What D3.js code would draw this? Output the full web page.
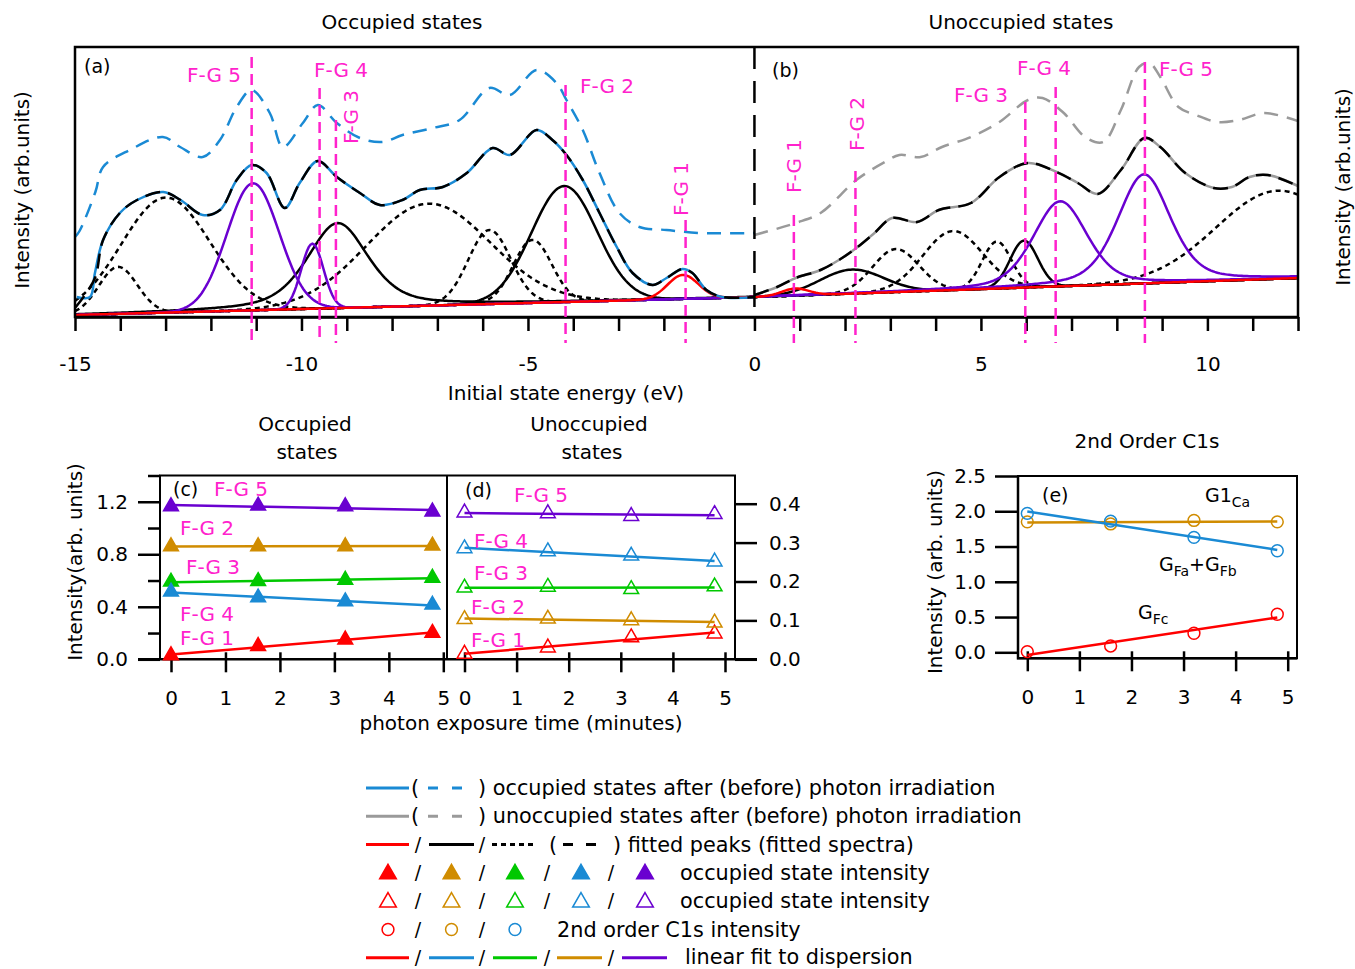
<!DOCTYPE html>
<meta charset="utf-8">
<script src="https://d3js.org/d3.v7.min.js"></script>
<style>
body { margin: 0; background: #fff; }
text { font-family: "DejaVu Sans", sans-serif; }
</style>
<body>
<script>

// ---------- spectra: [energy (eV), intensity (arb.)] ----------
var occAfter = [[-14.96,2.0],[-14.67,2.0],[-14.56,4.4],[-14.38,7.7],[-14.01,10.4],[-13.63,11.7],[-13.05,12.5],[-12.67,11.7],
  [-12.18,10.2],[-11.80,10.7],[-11.43,13.7],[-11.10,15.2],[-10.77,14.4],[-10.37,10.9],[-10.04,13.4],[-9.64,15.6],[-9.22,14.0],
  [-8.71,12.4],[-8.27,11.2],[-7.77,11.7],[-7.39,12.7],[-6.88,13.0],[-6.35,14.4],[-5.78,16.9],[-5.40,16.2],[-4.81,18.7],
  [-4.46,17.7],[-4.15,16.2],[-3.79,13.7],[-3.42,10.4],[-3.04,7.0],[-2.69,4.4],[-2.25,3.2],[-1.94,3.9],[-1.59,4.8],
  [-1.37,4.4],[-1.06,2.7],[-0.71,2.0],[0,2.0]];
var occBefore = [[-15,8.0],[-14.9,8.6],[-14.55,12.5],[-14.38,15.0],[-13.79,16.7],[-13.06,18.0],[-12.68,17.0],[-12.18,16.0],
  [-11.80,17.7],[-11.43,21.0],[-11.10,22.7],[-10.70,20.4],[-10.41,17.0],[-9.97,19.4],[-9.64,21.2],[-9.22,19.4],[-8.71,17.9],
  [-8.21,17.5],[-7.77,18.2],[-7.10,18.9],[-6.51,19.7],[-5.85,22.9],[-5.40,22.2],[-4.81,24.7],[-4.37,23.4],[-4.15,21.7],
  [-3.79,18.7],[-3.42,14.4],[-2.98,10.4],[-2.54,9.0],[-1.94,8.7],[-1.21,8.4],[0,8.4]];
var unoccAfter = [[0,2.2],[0.5,3.0],[0.91,3.9],[1.46,4.7],[1.9,5.8],[2.25,6.9],[2.65,8.4],[3.04,9.9],[3.59,9.5],[4.07,10.7],
  [4.78,11.4],[5.41,14.0],[6.04,15.4],[6.67,14.5],[7.14,13.4],[7.58,12.3],[8.09,14.7],[8.61,17.9],[8.96,17.0],[9.51,14.4],
  [10.14,12.9],[10.54,13.0],[10.93,14.0],[11.33,14.2],[12,13.1]];
var unoccBefore = [[0,8.2],[0.91,9.4],[1.46,10.4],[2.25,13.7],[2.88,15.5],[3.2,16.2],[3.67,16.0],[4.14,17.0],[4.78,18.0],
  [5.41,19.5],[6.04,21.7],[6.36,21.9],[6.83,20.4],[7.3,18.0],[7.7,17.5],[8.09,20.7],[8.49,25.0],[8.72,25.4],[8.96,24.0],
  [9.36,21.0],[9.75,20.2],[10.22,19.5],[10.7,19.7],[11.25,20.4],[12,19.6]];
// start of the fitted occupied spectrum (rest follows the data)
var fitOccStart = [[-15,0.9],[-14.75,2.4],[-14.55,4.0]];

// linear background under the fits
var background = [[-15,0.2],[0,2.0],[12,3.9]];

// fitted peaks: [centre (eV), height above background, fwhm (eV), lorentzian fraction]
var redPeaks = [[-1.58,2.4,0.8,0],[0.9,0.7,0.7,0]];
var blackPeaks = [[-9.2,8.5,1.6,0.5],[-4.2,11.6,1.7,0],[2.15,2.4,1.65,0],[5.95,4.7,0.72,0]];
var purplePeaks = [[-11.07,12.7,1.36,0],[-9.76,6.5,0.58,0],[6.75,8.5,1.4,0.35],[8.6,10.9,1.38,0.4]];
var dottedPeaks = [[-14.05,4.7,1.0,0],[-13.0,11.5,2.3,0],[-7.2,10.2,3.2,0],[-5.85,7.4,1.1,0],[-4.9,6.3,1.0,0],
  [3.12,4.3,1.2,0],[4.38,5.9,1.55,0],[5.35,4.7,0.75,0],[11.55,8.8,3.2,0]];

// F-G marker energies and the top of each marker line
var fgNames = ["F-G 5","F-G 4","F-G 3","F-G 2","F-G 1","F-G 1","F-G 2","F-G 3","F-G 4","F-G 5"];
var fgEnergy = [-11.1,-9.6,-9.24,-4.17,-1.52,0.87,2.23,5.98,6.65,8.62];
var fgTop = [26.0,22.9,19.7,23.2,9.7,10.2,14.6,21.5,23.0,25.5];

// ---------- intensity vs exposure ----------
var time = [0,1.6,3.2,4.8];
var occFG1 = [0.03,0.10,0.15,0.20];
var occFG2 = [0.86,0.86,0.86,0.865];
var occFG3 = [0.59,0.595,0.605,0.62];
var occFG4 = [0.515,0.47,0.44,0.415];
var occFG5 = [1.165,1.17,1.165,1.125];
var unoccFG1 = [0.014,0.030,0.056,0.066];
var unoccFG2 = [0.103,0.104,0.100,0.094];
var unoccFG3 = [0.184,0.186,0.180,0.187];
var unoccFG4 = [0.285,0.277,0.266,0.251];
var unoccFG5 = [0.377,0.375,0.368,0.373];
var c1sFc = [0.01,0.09,0.27,0.54];
var c1sCa = [1.85,1.82,1.87,1.85];
var c1sFab = [1.97,1.86,1.63,1.44];

var red = "#ff0000", orange = "#d08c00", green = "#00c800", blue = "#1a8ad4", purple = "#6a00d0",
    magenta = "#ff22cc", gray = "#9a9a9a";
var FONT = "DejaVu Sans, sans-serif";

var svg = d3.select("body").append("svg").attr("width", 1355).attr("height", 969);

function label(x, y, s, opts) {
  opts = opts || {};
  var t = svg.append("text").attr("x", x).attr("y", y).text(s)
    .style("font-size", (opts.size || 20) + "px")
    .attr("fill", opts.color || "#000")
    .attr("text-anchor", opts.anchor || "start");
  if (opts.rotate) t.attr("transform", "rotate(-90," + x + "," + y + ")");
  return t;
}

// ================= panels (a) and (b) =================
var xE = d3.scaleLinear().domain([-15, 12]).range([75, 1298]);
var yI = d3.scaleLinear().domain([0, 27]).range([317, 47]);
var bg = d3.scaleLinear().domain(background.map(d => d[0])).range(background.map(d => d[1]));

svg.append("clipPath").attr("id", "clipAB").append("rect")
  .attr("x", 75).attr("y", 47).attr("width", 1223).attr("height", 270);
var gAB = svg.append("g").attr("clip-path", "url(#clipAB)");

var smooth = d3.line().x(d => xE(d[0])).y(d => yI(d[1])).curve(d3.curveCatmullRom.alpha(0.5));
var straight = d3.line().x(d => xE(d[0])).y(d => yI(d[1]));

function peakCurve(p) {
  var lo = p[0] < 0 ? -15 : 0, hi = p[0] < 0 ? 0 : 12;
  return d3.range(lo, hi + 1e-6, 0.04).map(function(x) {
    var u = (x - p[0]) / p[2];
    return [x, bg(x) + p[1] * ((1 - p[3]) * Math.exp(-4 * Math.LN2 * u * u) + p[3] / (1 + 4 * u * u))];
  });
}
function drawPeaks(peaks, color, dash) {
  gAB.selectAll(null).data(peaks).enter().append("path")
    .attr("d", p => straight(peakCurve(p)))
    .attr("fill", "none").attr("stroke", color).attr("stroke-width", 2.5)
    .attr("stroke-dasharray", dash);
}
drawPeaks(dottedPeaks, "#000", "5,4");
drawPeaks(blackPeaks, "#000", null);
drawPeaks(purplePeaks, purple, null);
drawPeaks(redPeaks, red, null);

function spectrum(data, color, width, dash) {
  gAB.append("path").attr("d", smooth(data)).attr("fill", "none")
    .attr("stroke", color).attr("stroke-width", width).attr("stroke-dasharray", dash);
}
spectrum(occBefore, blue, 2.5, "14,9");
spectrum(unoccBefore, gray, 2.5, "14,9");
spectrum(occAfter, blue, 2.5, null);
spectrum(unoccAfter, gray, 2.5, null);
spectrum(fitOccStart.concat(occAfter.filter(d => d[0] > -14.5)), "#000", 2.5, "15,8");
spectrum(unoccAfter, "#000", 2.5, "15,8");

// frame
svg.append("rect").attr("x", 75).attr("y", 47).attr("width", 1223).attr("height", 270)
  .attr("fill", "none").attr("stroke", "#000").attr("stroke-width", 2.5);
svg.append("line").attr("x1", xE(0)).attr("x2", xE(0)).attr("y1", 47).attr("y2", 317)
  .attr("stroke", "#000").attr("stroke-width", 2.5).attr("stroke-dasharray", "22,12");

var axA = svg.append("g").attr("transform", "translate(0,317)")
  .call(d3.axisBottom(xE).tickValues(d3.range(-15, 13)).tickSize(14).tickSizeOuter(0).tickPadding(26)
    .tickFormat(d => d % 5 === 0 ? String(d) : ""));
axA.select(".domain").attr("stroke-width", 2.5);
axA.selectAll(".tick line").attr("stroke-width", 2.5);
axA.selectAll("text").style("font-size", "20px").style("font-family", FONT);

// F-G marker lines
svg.selectAll(null).data(fgEnergy).enter().append("line")
  .attr("x1", d => xE(d)).attr("x2", d => xE(d))
  .attr("y1", (d, i) => yI(fgTop[i])).attr("y2", yI(-2.6))
  .attr("stroke", magenta).attr("stroke-width", 2.5).attr("stroke-dasharray", "11,6");

var fgLabelPos = [[241, 82, "end", 0], [314, 77, "start", 0], [358, 144, "start", 1], [580, 93, "start", 0],
                  [688, 216, "start", 1], [801, 193, "start", 1], [864, 151, "start", 1], [954, 102, "start", 0],
                  [1017, 75, "start", 0], [1159, 76, "start", 0]];
fgLabelPos.forEach(function(p, i) {
  label(p[0], p[1], fgNames[i], {color: magenta, size: 20, anchor: p[2], rotate: p[3]});
});

label(84, 73, "(a)", {size: 19});
label(772, 77, "(b)", {size: 19});
label(402, 29, "Occupied states", {anchor: "middle"});
label(1021, 29, "Unoccupied states", {anchor: "middle"});
label(566, 400, "Initial state energy (eV)", {anchor: "middle"});
label(29, 190, "Intensity (arb.units)", {anchor: "middle", rotate: 1});
label(1350, 187, "Intensity (arb.units)", {anchor: "middle", rotate: 1});

// ================= helpers for small panels =================
function linFit(xs, ys) {
  var mx = d3.mean(xs), my = d3.mean(ys), sxy = 0, sxx = 0;
  xs.forEach(function(x, i) { sxy += (x - mx) * (ys[i] - my); sxx += (x - mx) * (x - mx); });
  var b = sxy / sxx;
  return [my - b * mx, b];
}
var tri = d3.symbol().type(d3.symbolTriangle).size(95);
var circ = d3.symbol().type(d3.symbolCircle).size(110);

function series(xS, yS, ys, color, kind) {
  var f = linFit(time, ys);
  svg.append("line").attr("x1", xS(0)).attr("x2", xS(4.8))
    .attr("y1", yS(f[0])).attr("y2", yS(f[0] + f[1] * 4.8))
    .attr("stroke", color).attr("stroke-width", 2.5);
  svg.selectAll(null).data(ys).enter().append("path")
    .attr("d", kind === "circle" ? circ : tri)
    .attr("transform", (d, i) => "translate(" + xS(time[i]) + "," + yS(d) + ")")
    .attr("fill", kind === "filled" ? color : "none")
    .attr("stroke", color).attr("stroke-width", 1.5);
}
function styleAxis(g) {
  g.select(".domain").remove();
  g.selectAll(".tick line").attr("stroke-width", 2.5);
  g.selectAll("text").style("font-size", "20px").style("font-family", FONT);
  return g;
}

// ================= panels (c) and (d) =================
var xC = d3.scaleLinear().domain([0, 5]).range([171, 443.3]);
var xD = d3.scaleLinear().domain([0, 5]).range([464.5, 725]);
var yC = d3.scaleLinear().domain([0, 1.4]).range([659.3, 475.5]);
var yD = d3.scaleLinear().domain([0, 0.4725]).range([659.3, 475.5]);

styleAxis(svg.append("g").attr("transform", "translate(160,0)")
  .call(d3.axisLeft(yC).tickValues([0, 0.4, 0.8, 1.2]).tickSize(22).tickPadding(10).tickFormat(d3.format(".1f"))));
styleAxis(svg.append("g").attr("transform", "translate(160,0)")
  .call(d3.axisLeft(yC).tickValues([0.2, 0.6, 1.0, 1.4]).tickSize(12).tickFormat("")));
styleAxis(svg.append("g").attr("transform", "translate(735,0)")
  .call(d3.axisRight(yD).tickValues([0, 0.1, 0.2, 0.3, 0.4]).tickSize(22).tickPadding(12).tickFormat(d3.format(".1f"))));
[xC, xD].forEach(function(xs) {
  var g = styleAxis(svg.append("g").attr("transform", "translate(0,659.3)")
    .call(d3.axisBottom(xs).ticks(5).tickSize(13).tickPadding(19)));
  g.selectAll(".tick line").attr("y1", -7);
});
svg.append("path").attr("d", "M160,659.3V475.5H735V659.3M447,475.5V659.3")
  .attr("fill", "none").attr("stroke", "#000").attr("stroke-width", 2);
svg.append("line").attr("x1", 138).attr("x2", 757).attr("y1", 659.3).attr("y2", 659.3)
  .attr("stroke", "#000").attr("stroke-width", 2.5);

series(xC, yC, occFG1, red, "filled");
series(xC, yC, occFG2, orange, "filled");
series(xC, yC, occFG3, green, "filled");
series(xC, yC, occFG4, blue, "filled");
series(xC, yC, occFG5, purple, "filled");
series(xD, yD, unoccFG1, red, "open");
series(xD, yD, unoccFG2, orange, "open");
series(xD, yD, unoccFG3, green, "open");
series(xD, yD, unoccFG4, blue, "open");
series(xD, yD, unoccFG5, purple, "open");

label(173, 496, "(c)", {size: 19});
label(465, 497, "(d)", {size: 19});
[[214, 496, "F-G 5"], [180, 535, "F-G 2"], [186, 574, "F-G 3"], [180, 621, "F-G 4"], [180, 645, "F-G 1"],
 [514, 502, "F-G 5"], [474, 548, "F-G 4"], [474, 580, "F-G 3"], [471, 614, "F-G 2"], [471, 647, "F-G 1"]]
  .forEach(p => label(p[0], p[1], p[2], {color: magenta, size: 20}));

label(305, 431, "Occupied", {anchor: "middle"});
label(307, 459, "states", {anchor: "middle"});
label(589, 431, "Unoccupied", {anchor: "middle"});
label(592, 459, "states", {anchor: "middle"});
label(521, 730, "photon exposure time (minutes)", {anchor: "middle"});
label(82, 562, "Intensity(arb. units)", {anchor: "middle", rotate: 1});

// ================= panel (e) =================
var xEx = d3.scaleLinear().domain([0, 5]).range([1027.3, 1287.7]);
var yEx = d3.scaleLinear().domain([-0.085, 2.5]).range([658.3, 476]);

styleAxis(svg.append("g").attr("transform", "translate(1018,0)")
  .call(d3.axisLeft(yEx).tickValues([0, 0.5, 1, 1.5, 2, 2.5]).tickSize(23).tickPadding(9).tickFormat(d3.format(".1f"))));
var axE = styleAxis(svg.append("g").attr("transform", "translate(0,658.3)")
  .call(d3.axisBottom(xEx).ticks(5).tickSize(13).tickPadding(19)));
axE.selectAll(".tick line").attr("y1", -7);
svg.append("rect").attr("x", 1018).attr("y", 476).attr("width", 279).attr("height", 182.3)
  .attr("fill", "none").attr("stroke", "#000").attr("stroke-width", 2);
svg.append("path").attr("d", "M1018,476V658.3H1297").attr("fill", "none").attr("stroke", "#000").attr("stroke-width", 2.5);

series(xEx, yEx, c1sFc, red, "circle");
series(xEx, yEx, c1sCa, orange, "circle");
series(xEx, yEx, c1sFab, blue, "circle");

label(1042, 502, "(e)", {size: 19});
label(1147, 448, "2nd Order C1s", {anchor: "middle"});
label(942, 572, "Intensity (arb. units)", {anchor: "middle", rotate: 1});
function subLabel(x, y, parts) {
  var t = svg.append("text").attr("x", x).attr("y", y).style("font-size", "19px");
  var low = false;
  parts.forEach(function(p) {
    var dy = p[1] ? (low ? 0 : 5) : (low ? -5 : 0);
    low = !!p[1];
    t.append("tspan").text(p[0]).attr("dy", dy).style("font-size", p[1] ? "14px" : "19px");
  });
}
subLabel(1205, 502, [["G1", 0], ["Ca", 1]]);
subLabel(1159, 571, [["G", 0], ["Fa", 1], ["+G", 0], ["Fb", 1]]);
subLabel(1138, 619, [["G", 0], ["Fc", 1]]);

// ================= legend =================
var LEG = 20.8;
var rowY = d3.range(7).map(i => 788 + i * 28.3);
function legLine(x1, x2, y, color, dash) {
  svg.append("line").attr("x1", x1).attr("x2", x2).attr("y1", y).attr("y2", y)
    .attr("stroke", color).attr("stroke-width", 3).attr("stroke-dasharray", dash);
}
function legText(x, y, s) { label(x, y, s, {size: LEG}); }
function slash(x, y) { label(x, y + 6, "/", {anchor: "middle", size: 19}); }

legLine(366, 409, rowY[0], blue); legText(411, rowY[0] + 7, "(");
legLine(428, 465, rowY[0], blue, "10,14"); legText(478, rowY[0] + 7, ") occupied states after (before) photon irradiation");
legLine(366, 409, rowY[1], gray); legText(411, rowY[1] + 7, "(");
legLine(428, 465, rowY[1], gray, "10,14"); legText(478, rowY[1] + 7, ") unoccupied states after (before) photon irradiation");
legLine(366, 409, rowY[2], red); slash(418, rowY[2]);
legLine(429, 474, rowY[2], "#000"); slash(482, rowY[2]);
legLine(492, 536, rowY[2], "#000", "5,4"); legText(549, rowY[2] + 7, "(");
legLine(563, 599, rowY[2], "#000", "10,13"); legText(613, rowY[2] + 7, ") fitted peaks (fitted spectra)");

var legX = [388, 451.5, 515, 581, 645], legSlash = [418, 482, 547, 611];
var triColors = [red, orange, green, blue, purple];
var legTri = d3.symbol().type(d3.symbolTriangle).size(120);
[0, 1].forEach(function(k) {
  var y = rowY[3 + k];
  triColors.forEach(function(c, i) {
    svg.append("path").attr("d", legTri).attr("transform", "translate(" + legX[i] + "," + (y + 1) + ")")
      .attr("fill", k === 0 ? c : "none").attr("stroke", c).attr("stroke-width", 1.5);
  });
  legSlash.forEach(x => slash(x, y));
  legText(680, y + 7, "occupied state intensity");
});
[red, orange, blue].forEach(function(c, i) {
  svg.append("path").attr("d", circ).attr("transform", "translate(" + legX[i] + "," + rowY[5] + ")")
    .attr("fill", "none").attr("stroke", c).attr("stroke-width", 1.5);
});
legSlash.slice(0, 2).forEach(x => slash(x, rowY[5]));
legText(557, rowY[5] + 7, "2nd order C1s intensity");

var fitX = [[366, 409], [429, 474], [493, 537], [557, 602], [622, 667]];
[red, blue, green, orange, purple].forEach((c, i) => legLine(fitX[i][0], fitX[i][1], rowY[6], c));
legSlash.forEach(x => slash(x, rowY[6]));
legText(685, rowY[6] + 6, "linear fit to dispersion");

</script>
